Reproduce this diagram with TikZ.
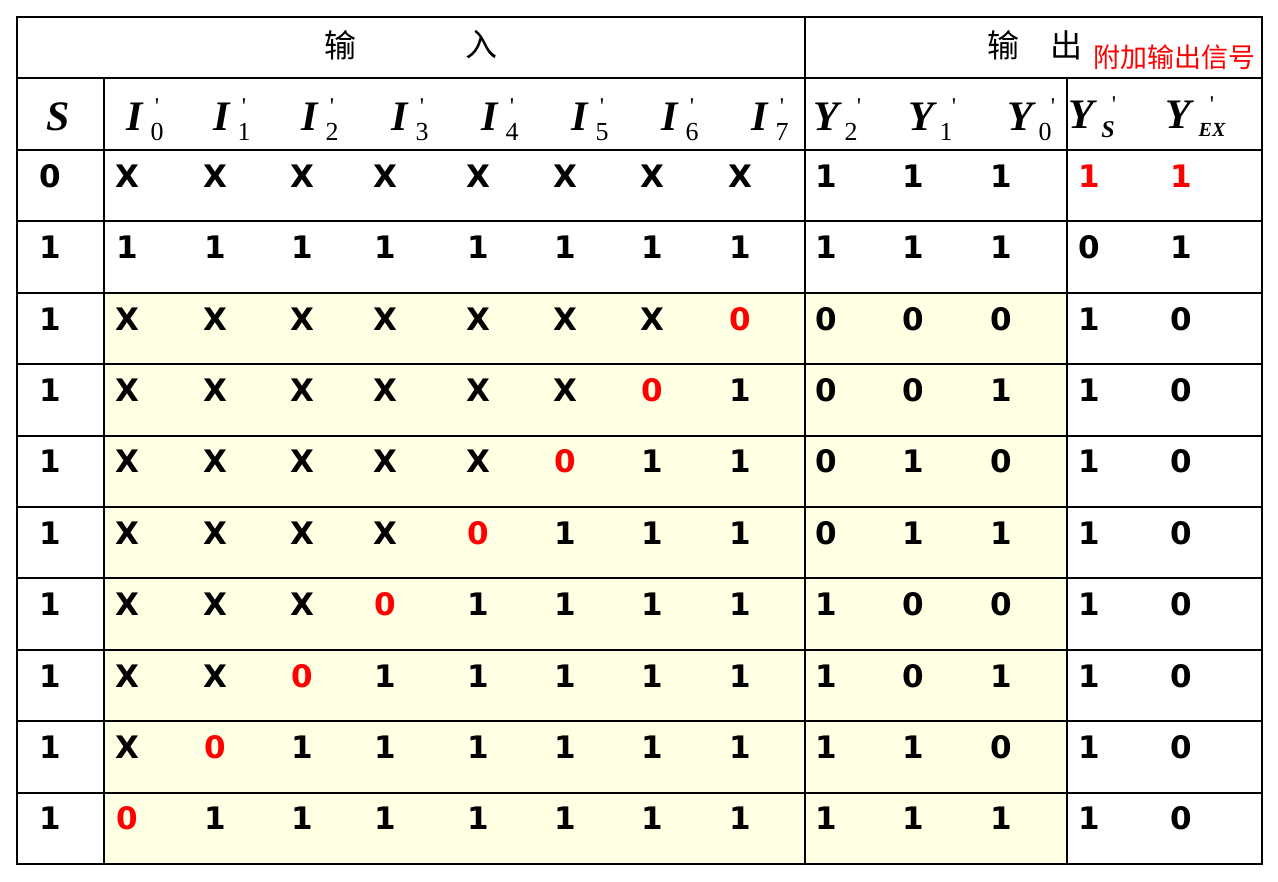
\documentclass[tikz,border=0pt]{standalone}
\usepackage{fontspec}
\setmainfont{Liberation Serif}
\newfontfamily\bitfont{DejaVu Sans}
\newfontfamily\cjkfont{Noto Sans CJK SC}
\definecolor{tableyellow}{RGB}{255,255,228}
\newcommand{\redbit}[1]{\textcolor{red}{#1}}
\tikzset{
  grid line/.style={line width=2pt, line cap=rect},
  bit/.style={font=\bitfont\bfseries\fontsize{31}{31}\selectfont, inner sep=0pt},
  head/.style={font=\bfseries\itshape\fontsize{42}{42}\selectfont, inner sep=0pt, anchor=base},
  subidx/.style={font=\fontsize{26}{26}\selectfont, inner sep=0pt, anchor=base},
  subvar/.style={font=\bfseries\itshape\fontsize{24}{24}\selectfont, inner sep=0pt, anchor=base},
  prime/.style={font=\fontsize{24}{24}\selectfont, inner sep=0pt, anchor=base},
  cjk/.style={font=\cjkfont\fontsize{32}{32}\selectfont, inner sep=0pt},
}
\begin{document}
\begin{tikzpicture}[x=1pt,y=1pt,yscale=-1,xscale=1]
        \useasboundingbox (0,0) rectangle (1278,882);
        %Shape: Rectangle [yellow block]
        \fill [tableyellow] (104,292) -- (1067,292) -- (1067,864) -- (104,864) -- cycle ;
        %Shape: Rectangle [outer frame]
        \draw [grid line] (17,17) -- (1262,17) -- (1262,864) -- (17,864) -- cycle ;
        %Straight Lines [header rows]
        \draw [grid line] (17,78) -- (1262,78) ;
        \draw [grid line] (17,150) -- (1262,150) ;
        %Straight Lines [body rows]
        \foreach \k in {1,...,9}
          \draw [grid line] (17,{150+71.4*\k}) -- (1262,{150+71.4*\k}) ;
        %Straight Lines [columns]
        \draw [grid line] (104,78) -- (104,864) ;
        \draw [grid line] (805,17) -- (805,864) ;
        \draw [grid line] (1067,78) -- (1067,864) ;

        % Text Node
        \draw (340,45) node (inA) [cjk] {输};
        % Text Node
        \draw (481,45) node (inB) [cjk] {入};
        % Text Node
        \draw (1003,45) node (outA) [cjk] {输};
        % Text Node
        \draw (1066,45) node (outB) [cjk] {出};
        % Text Node
        \draw (1174,57) node (extra) [cjk, text=red, font=\cjkfont\fontsize{27}{27}\selectfont] {附加输出信号};

        % Text Node
        \draw (58,131) node (hS) [head] {S};
        % Text Node (inputs)
        \foreach \i/\xi in {0/135,1/222,2/310,3/400,4/490,5/580,6/670,7/760} {
          \draw (\xi,131) node (hI\i) [head] {I};
          \draw (\xi+22,141) node (sI\i) [subidx] {\i};
          \draw (\xi+22,115) node (pI\i) [prime] {\textquotesingle};
        }
        % Text Node (outputs)
        \foreach \i/\xi in {2/826,1/921,0/1020} {
          \draw (\xi,131) node (hY\i) [head] {Y};
          \draw (\xi+25,141) node (sY\i) [subidx] {\i};
          \draw (\xi+33,115) node (pY\i) [prime] {\textquotesingle};
        }
        % Text Node
        \draw (1081,129) node (hYS) [head] {Y};
        \draw (1108,138) node (sYS) [subvar] {S};
        \draw (1114,113) node (pYS) [prime] {\textquotesingle};
        % Text Node
        \draw (1178,129) node (hYEX) [head] {Y};
        \draw (1212,137) node (sYEX) [subvar, font=\bfseries\itshape\fontsize{20}{20}\selectfont] {EX};
        \draw (1212,113) node (pYEX) [prime] {\textquotesingle};

        % Text Node (table body)
        \foreach \r/\vals in {
            1/{0,X,X,X,X,X,X,X,X,1,1,1,\redbit{1},\redbit{1}},
            2/{1,1,1,1,1,1,1,1,1,1,1,1,0,1},
            3/{1,X,X,X,X,X,X,X,\redbit{0},0,0,0,1,0},
            4/{1,X,X,X,X,X,X,\redbit{0},1,0,0,1,1,0},
            5/{1,X,X,X,X,X,\redbit{0},1,1,0,1,0,1,0},
            6/{1,X,X,X,X,\redbit{0},1,1,1,0,1,1,1,0},
            7/{1,X,X,X,\redbit{0},1,1,1,1,1,0,0,1,0},
            8/{1,X,X,\redbit{0},1,1,1,1,1,1,0,1,1,0},
            9/{1,X,\redbit{0},1,1,1,1,1,1,1,1,0,1,0},
            10/{1,\redbit{0},1,1,1,1,1,1,1,1,1,1,1,0}} {
          \foreach \v [count=\c] in \vals {
            \pgfmathsetmacro{\xx}{{50,127,215,302,385,478,565,652,740,826,913,1001,1089,1181}[\c-1]}
            \draw (\xx,{176+71.4*(\r-1)}) node (r\r c\c) [bit] {\v};
          }
        }
    \end{tikzpicture}
\end{document}
